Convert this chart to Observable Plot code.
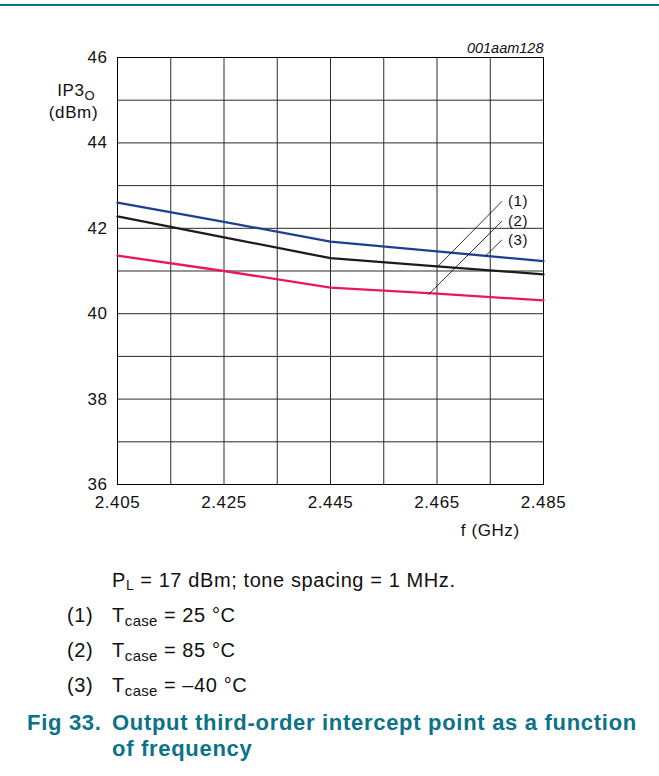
<!DOCTYPE html>
<html>
<head>
<meta charset="utf-8">
<script src="https://cdn.jsdelivr.net/npm/d3@7"></script>
<script src="https://cdn.jsdelivr.net/npm/@observablehq/plot@0.6"></script>
<style>
  body { margin: 0; background: #fff; }
  #wrap { position: relative; width: 659px; height: 776px; font-family: 'Liberation Sans', Arial, Helvetica, sans-serif; color: #111; overflow: hidden; }
  #rule { position: absolute; left: 0; top: 4px; width: 659px; height: 2px; background: #0a7389; }
  #chart { position: absolute; left: 0; top: 0; }
  .t { position: absolute; line-height: 1; white-space: nowrap; }
  .body { font-size: 20px; letter-spacing: 0.6px; }
  .sub { position: relative; top: 4px; font-size: 15px; letter-spacing: 0.3px; }
  .title { font-size: 22px; font-weight: bold; color: #0a7389; letter-spacing: 0.7px; }
</style>
</head>
<body>
<div id="wrap">
  <div id="rule"></div>
  <div id="chart"></div>
  <div class="t body" style="left:112px; top:570px;">P<span class="sub" style="top:3px;font-size:14px;">L</span> = 17 dBm; tone spacing = 1 MHz.</div>
  <div class="t body" style="left:67px; top:605px;">(1)</div>
  <div class="t body" style="left:112px; top:605px;">T<span class="sub">case</span> = 25 °C</div>
  <div class="t body" style="left:67px; top:640px;">(2)</div>
  <div class="t body" style="left:112px; top:640px;">T<span class="sub">case</span> = 85 °C</div>
  <div class="t body" style="left:67px; top:675px;">(3)</div>
  <div class="t body" style="left:112px; top:675px;">T<span class="sub">case</span> = –40 °C</div>
  <div class="t title" style="left:27px; top:712px;">Fig 33.</div>
  <div class="t title" style="left:112px; top:712px;">Output third-order intercept point as a function</div>
  <div class="t title" style="left:112px; top:738px;">of frequency</div>
</div>
<script>
// ---- data ----
const freq = [2.405, 2.425, 2.445, 2.465, 2.485];           // GHz
const ip3_25C = [42.28, 41.79, 41.30, 41.11, 40.92];        // (1) Tcase = 25 °C (black)
const ip3_85C = [41.36, 41.00, 40.61, 40.47, 40.31];        // (2) Tcase = 85 °C (red)
const ip3_m40C = [42.60, 42.15, 41.69, 41.46, 41.23];       // (3) Tcase = -40 °C (blue)

const xTicks = [2.405, 2.425, 2.445, 2.465, 2.485];
const xGrid = [2.405, 2.415, 2.425, 2.435, 2.445, 2.455, 2.465, 2.475, 2.485];
const yTicks = [36, 38, 40, 42, 44, 46];
const yGrid = [36, 37, 38, 39, 40, 41, 42, 43, 44, 45, 46];

const labelNames = ["(1)", "(2)", "(3)"];
const labelX = [2.4772, 2.4772, 2.4772];
const labelY = [42.63, 42.17, 41.73];
const pointX = [2.4651, 2.4634, 2.4741];
const pointY = [41.10, 40.45, 41.35];

const seriesColors = ["#1c1c1c", "#e8195a", "#1d3f92"];

// ---- tables built from arrays ----
const mk = vals => freq.map((f, i) => ({f, v: vals[i]}));
const s25 = mk(ip3_25C), s85 = mk(ip3_85C), sm40 = mk(ip3_m40C);
const leaders = labelNames.map((name, i) => ({name, x1: labelX[i], y1: labelY[i], x2: pointX[i], y2: pointY[i]}));

const chart = Plot.plot({
  width: 659,
  height: 550,
  marginTop: 57,
  marginLeft: 117,
  marginRight: 116,
  marginBottom: 66,
  style: {fontFamily: "'Liberation Sans', Arial, Helvetica, sans-serif", fontSize: "17px", background: "transparent", overflow: "visible", color: "#111", letterSpacing: "0.6px"},
  x: {domain: [2.405, 2.485], ticks: xTicks, tickSize: 0, tickPadding: 11, tickFormat: d3.format(".3f"), label: null},
  y: {domain: [36, 46], ticks: yTicks, tickSize: 0, tickPadding: 10, label: null},
  marks: [
    Plot.ruleX(xGrid, {stroke: "#2a2a2a", strokeWidth: 1}),
    Plot.ruleY(yGrid, {stroke: "#2a2a2a", strokeWidth: 1}),
    Plot.frame({stroke: "#000", strokeWidth: 1}),
    Plot.line(s85, {x: "f", y: "v", stroke: seriesColors[1], strokeWidth: 2.3}),
    Plot.line(s25, {x: "f", y: "v", stroke: seriesColors[0], strokeWidth: 2.3}),
    Plot.line(sm40, {x: "f", y: "v", stroke: seriesColors[2], strokeWidth: 2.3}),
    Plot.link(leaders, {x1: "x1", y1: "y1", x2: "x2", y2: "y2", stroke: "#000", strokeWidth: 0.8}),
    Plot.text(leaders, {x: "x1", y: "y1", text: "name", dx: 6, textAnchor: "start", fontSize: 15}),
    Plot.text(["001aam128"], {frameAnchor: "top-right", text: d => d, dy: -5, lineAnchor: "bottom", textAnchor: "end", fontStyle: "italic", fontSize: 14.5}),
    Plot.text(["f (GHz)"], {x: [2.475], frameAnchor: "bottom", text: d => d, dy: 51, lineAnchor: "bottom", fontSize: 17}),
    Plot.text(["IP3"], {frameAnchor: "top-left", text: d => d, dx: -33, dy: 38, lineAnchor: "bottom", textAnchor: "end", fontSize: 17}),
    Plot.text(["O"], {frameAnchor: "top-left", text: d => d, dx: -33, dy: 42, lineAnchor: "bottom", textAnchor: "start", fontSize: 13}),
    Plot.text(["(dBm)"], {frameAnchor: "top-left", text: d => d, dx: -44, dy: 60, lineAnchor: "bottom", textAnchor: "middle", fontSize: 17})
  ]
});
d3.select(chart).selectAll("text").filter(function() { return this.textContent === "001aam128"; }).style("letter-spacing", "0px");
document.getElementById("chart").appendChild(chart);
</script>
</body>
</html>
